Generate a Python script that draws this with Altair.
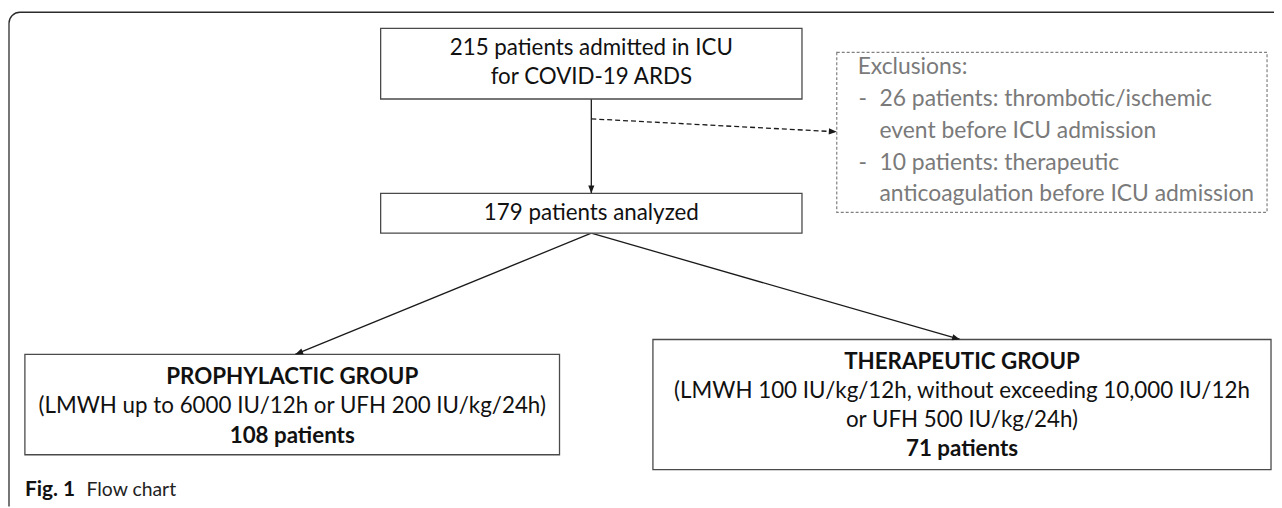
import math
import altair as alt
import pandas as pd

# ---------------- content ----------------
top_lines = ["215 patients admitted in ICU", "for COVID-19 ARDS"]
analyzed_lines = ["179 patients analyzed"]
exclusion_title = ["Exclusions:"]
exclusion_bullets = ["-", "", "-", ""]
exclusion_lines = [
    "26 patients: thrombotic/ischemic",
    "event before ICU admission",
    "10 patients: therapeutic",
    "anticoagulation before ICU admission",
]
proph_lines = ["PROPHYLACTIC GROUP", "(LMWH up to 6000 IU/12h or UFH 200 IU/kg/24h)", "108 patients"]
proph_bold = [True, False, True]
thera_lines = [
    "THERAPEUTIC GROUP",
    "(LMWH 100 IU/kg/12h, without exceeding 10,000 IU/12h",
    "or UFH 500 IU/kg/24h)",
    "71 patients",
]
thera_bold = [True, False, False, True]
caption_bold = ["Fig. 1"]
caption_text = ["Flow chart"]

# ---------------- layout (page pixels) ----------------
W, H = 1274, 500
M = 8
box_names = ["top", "analyzed", "exclusions", "proph", "thera"]
box_x0 = [383, 383, 842, 25, 657]
box_x1 = [807, 807, 1275, 563, 1279]
box_y0 = [27, 193, 51, 355, 340]
box_y1 = [98, 233, 212, 456, 471]
box_dashed = [False, False, True, False, False]

edge_x0 = [595, 595, 595, 595]
edge_y0 = [98, 118, 233, 233]
edge_x1 = [595, 842, 297, 966]
edge_y1 = [193, 131, 355, 340]
edge_dashed = [False, True, False, False]

cx = lambda i: (box_x0[i] + box_x1[i]) / 2

texts = []
for t, y in zip(top_lines, [47, 76]):
    texts.append(dict(text=t, x=cx(0), y=y, kind="normal"))
for t, y in zip(analyzed_lines, [213]):
    texts.append(dict(text=t, x=cx(1), y=y, kind="normal"))
ex_y = [66, 98, 130, 162, 194]
texts.append(dict(text=exclusion_title[0], x=863, y=ex_y[0], kind="gray"))
for b, t, y in zip(exclusion_bullets, exclusion_lines, ex_y[1:]):
    if b:
        texts.append(dict(text=b, x=864, y=y, kind="gray"))
    texts.append(dict(text=t, x=885, y=y, kind="gray"))
for t, b, y in zip(proph_lines, proph_bold, [378, 407, 437]):
    texts.append(dict(text=t, x=cx(3), y=y, kind="bold" if b else "normal"))
for t, b, y in zip(thera_lines, thera_bold, [363, 392, 421, 450]):
    texts.append(dict(text=t, x=cx(4), y=y, kind="bold" if b else "normal"))
texts.append(dict(text=caption_bold[0], x=25, y=492, kind="capbold"))
texts.append(dict(text=caption_text[0], x=87, y=492, kind="cap"))
text_df = pd.DataFrame(texts)

boxes = pd.DataFrame(dict(name=box_names, x0=box_x0, x1=box_x1, y0=box_y0, y1=box_y1, dashed=box_dashed))
edges = pd.DataFrame(dict(x0=edge_x0, y0=edge_y0, x1=edge_x1, y1=edge_y1, dashed=edge_dashed))
edges["angle"] = [
    (math.degrees(math.atan2(x1 - x0, -(y1 - y0))) + 360) % 360
    for x0, y0, x1, y1 in zip(edge_x0, edge_y0, edge_x1, edge_y1)
]
frame = pd.DataFrame(dict(x0=[9], y0=[10.7], x1=[1600], y1=[800]))

xs = alt.Scale(domain=[M, M + W], nice=False, zero=False)
ys = alt.Scale(domain=[M, M + H], nice=False, zero=False, reverse=True)


def X(f):
    return alt.X(f, type="quantitative", scale=xs, axis=None)


def Y(f):
    return alt.Y(f, type="quantitative", scale=ys, axis=None)


frame_layer = alt.Chart(frame).mark_rect(
    fill="white", fillOpacity=0, stroke="#2b2b2b", strokeWidth=1.3,
    cornerRadiusTopLeft=11, clip=True
).encode(x=X("x0"), x2="x1", y=Y("y0"), y2="y1")

solid_boxes = alt.Chart(boxes).transform_filter("!datum.dashed").mark_rect(
    fill="white", stroke="#4a4a4a", strokeWidth=1.3
).encode(x=X("x0"), x2="x1", y=Y("y0"), y2="y1")

dashed_boxes = alt.Chart(boxes).transform_filter("datum.dashed").mark_rect(
    fill="white", stroke="#808080", strokeWidth=1.2, strokeDash=[3, 2]
).encode(x=X("x0"), x2="x1", y=Y("y0"), y2="y1")

solid_edges = alt.Chart(edges).transform_filter("!datum.dashed").mark_rule(
    color="#1a1a1a", strokeWidth=1.3
).encode(x=X("x0"), x2="x1", y=Y("y0"), y2="y1")

dashed_edges = alt.Chart(edges).transform_filter("datum.dashed").mark_rule(
    color="#1a1a1a", strokeWidth=1.3, strokeDash=[5, 3]
).encode(x=X("x0"), x2="x1", y=Y("y0"), y2="y1")

heads = alt.Chart(edges).mark_point(
    shape="M0,0 L-0.5,1.3 L0.5,1.3 Z", filled=True, color="#1a1a1a", opacity=1, size=150
).encode(x=X("x1"), y=Y("y1"), angle=alt.Angle("angle:Q", scale=None))

FONT = "Lato"


def text_layer(kind, **kw):
    return alt.Chart(text_df).transform_filter(f"datum.kind == '{kind}'").mark_text(
        font=FONT, baseline="middle", **kw
    ).encode(x=X("x"), y=Y("y"), text="text:N")


layers = [
    frame_layer, solid_edges, dashed_edges, solid_boxes, dashed_boxes, heads,
    text_layer("normal", fontSize=22.5, align="center", color="#111111"),
    text_layer("bold", fontSize=22.5, fontWeight="bold", align="center", color="#111111"),
    text_layer("gray", fontSize=23, align="left", color="#7a7a7a"),
    text_layer("capbold", fontSize=21, fontWeight="bold", align="left", color="#111111"),
    text_layer("cap", fontSize=19.5, align="left", color="#222222"),
]

chart = alt.layer(*layers).properties(
    width=W, height=H, padding=0, autosize="none", background="white"
).configure_view(stroke=None)

chart.save("out.html", embed_options={"renderer": "svg", "actions": False})
